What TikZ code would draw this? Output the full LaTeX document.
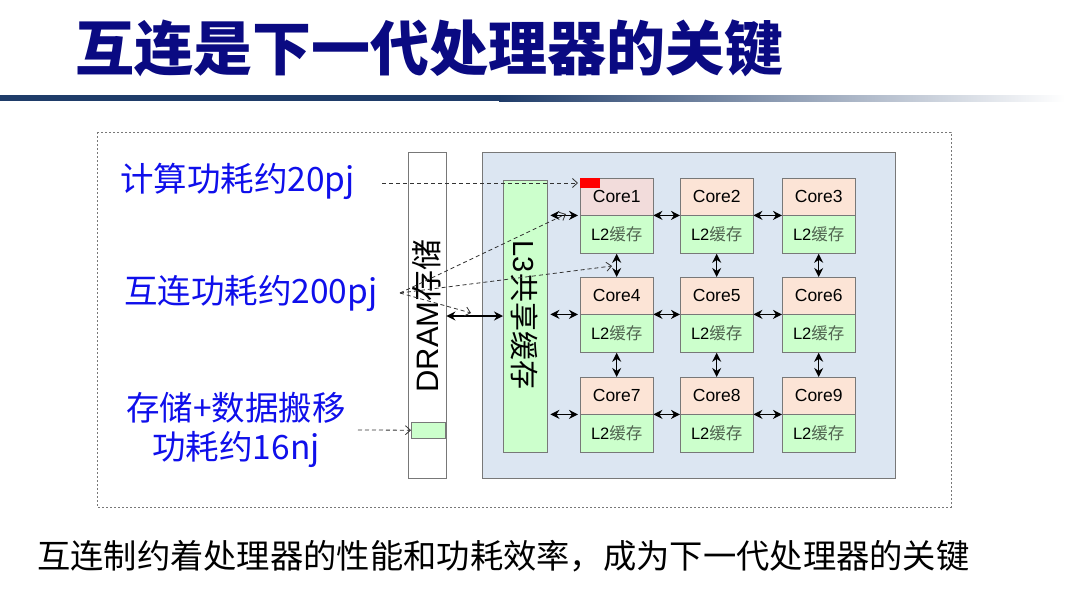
\documentclass[tikz,border=0pt]{standalone}
\usepackage{fontspec}
\setmainfont{Liberation Sans}
\newfontfamily\cjk{Noto Sans CJK SC}
\usetikzlibrary{arrows.meta}
\definecolor{titleblue}{RGB}{10,10,130}
\definecolor{barblue}{RGB}{31,60,105}
\definecolor{labblue}{RGB}{15,15,235}
\definecolor{panel}{RGB}{220,230,242}
\definecolor{corefill}{RGB}{252,228,214}
\definecolor{coreonefill}{RGB}{242,220,219}
\definecolor{lgreen}{RGB}{204,255,204}
\definecolor{ltxt}{RGB}{80,100,80}
\definecolor{edge}{RGB}{120,120,120}
\begin{document}
\begin{tikzpicture}[x=1pt,y=-1pt,
  lbl/.style={text=labblue, font=\cjk\fontsize{33.5}{39}\selectfont, inner sep=0pt},
  corebox/.style={draw=edge, minimum width=73pt, minimum height=37pt, inner sep=0pt, anchor=north west, font=\fontsize{17.5}{20}\selectfont},
  ltwobox/.style={draw=edge, fill=lgreen, minimum width=73pt, minimum height=38pt, inner sep=0pt, anchor=north, font=\fontsize{16.5}{19}\selectfont},
  dbl/.style={{Stealth[length=9pt,width=9pt]}-{Stealth[length=9pt,width=9pt]}, line width=1.4pt},
  dsh/.style={draw=black!80, line width=0.8pt, dash pattern=on 4pt off 3pt, -{Straight Barb[length=5pt,width=9pt]}}
]
\useasboundingbox (0,0) rectangle (1080,592);
\fill[white] (0,0) rectangle (1080,592);
% title and bar
\node[anchor=west, text=titleblue, inner sep=0pt, font=\cjk\bfseries\fontsize{59}{64}\selectfont] (title) at (75,48) {互连是下一代处理器的关键};
\fill[barblue] (0,95) rectangle (500,101);
\shade[left color=barblue, right color=white] (499,95) rectangle (1065,101);
% outer dashed frame
\draw[edge, line width=0.6pt, dash pattern=on 2pt off 2pt] (97,132) rectangle (951,507);
% DRAM column
\node[draw=edge, fill=white, minimum width=38pt, minimum height=326pt, inner sep=0pt, anchor=north west] (dram) at (408,152) {};
\node[rotate=90, inner sep=0pt, font=\fontsize{31}{34}\selectfont] (dramtxt) at (427,316) {DRAM{\cjk 存储}};
\node[draw=edge, fill=lgreen, minimum width=34pt, minimum height=16pt, inner sep=0pt, anchor=north west] (dstore) at (411,422) {};
% panel
\node[draw=edge, fill=panel, minimum width=413pt, minimum height=326pt, inner sep=0pt, anchor=north west] (chip) at (482,152) {};
\node[draw=edge, fill=lgreen, minimum width=44pt, minimum height=272pt, inner sep=0pt, anchor=north west] (l3) at (503,180) {};
\node[rotate=-90, inner sep=0pt, font=\fontsize{29}{32}\selectfont] (l3txt) at (525,315) {L3{\cjk 共享缓存}};
% cores
\foreach \i/\x/\y/\f in {1/580/178/coreonefill, 2/680/178/corefill, 3/782/178/corefill, 4/580/277/corefill, 5/680/277/corefill, 6/782/277/corefill, 7/580/377/corefill, 8/680/377/corefill, 9/782/377/corefill} {
  \node[corebox, fill=\f] (c\i) at (\x,\y) {Core\i};
  \node[ltwobox] (m\i) at (c\i.south) {L2{\cjk\color{ltxt}缓存}};
}
\node[fill=red, minimum width=20pt, minimum height=10pt, inner sep=0pt, anchor=north west] (redmark) at (c1.north west) {};
% connectors
\foreach \a/\b in {1/2,2/3,4/5,5/6,7/8,8/9} \draw[dbl] (c\a.south east) -- (c\b.south west);
\foreach \a/\b in {1/4,2/5,3/6,4/7,5/8,6/9} \draw[dbl] (m\a.south) -- (c\b.north);
\foreach \b in {1,4,7} \draw[dbl, shorten <=3pt, shorten >=2pt] (l3.east |- c\b.south west) -- (c\b.south west);
\coordinate (dly) at (460,316);
\draw[dbl, line width=1.9pt] (dram.east |- dly) -- (l3.west |- dly);
% labels
\node[lbl, anchor=west] (e20) at (120,181) {计算功耗约20pj};
\node[lbl, anchor=west] (e200) at (124,293) {互连功耗约200pj};
\node[lbl, align=center] (e16) at (236,430) {存储+数据搬移\\功耗约16nj};
% dashed annotation arrows
\draw[dsh, shorten >=2pt] ([xshift=27pt,yshift=-2pt]e20.east) -- ([yshift=-5pt]c1.north west);
\coordinate (s200) at (400,293);
\coordinate (t1) at (566,214);
\coordinate (t2) at (612,266);
\coordinate (t3) at (471,313);
\draw[dsh] (s200) -- (t1);
\draw[dsh] (s200) -- (t2);
\draw[dsh] (s200) -- (t3);
\draw[dsh] ([xshift=12pt]e16.east) -- (dstore.west);
% bottom sentence
\node[anchor=west, inner sep=0pt, font=\cjk\fontsize{33.3}{38}\selectfont] (concl) at (37,556) {互连制约着处理器的性能和功耗效率，成为下一代处理器的关键};
\end{tikzpicture}
\end{document}
